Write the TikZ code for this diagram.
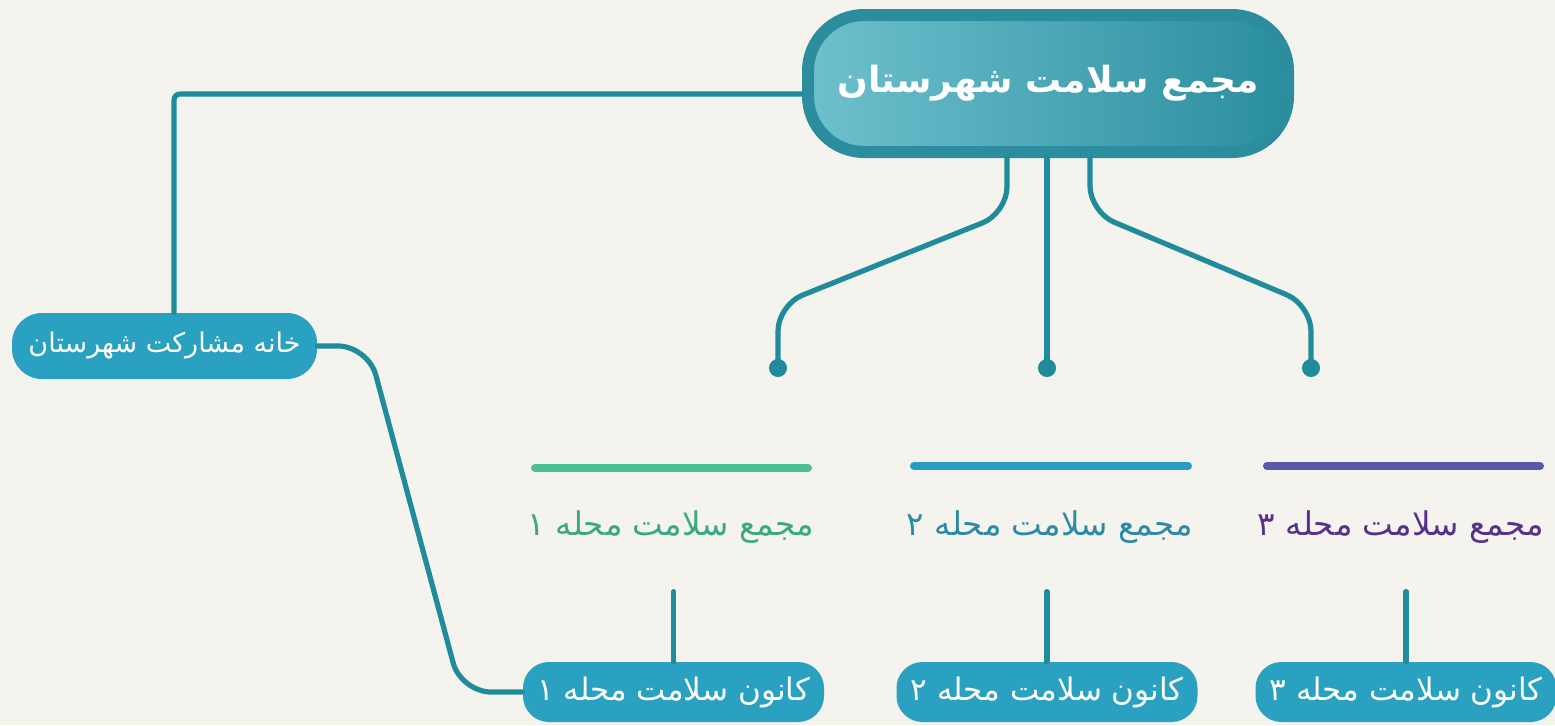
\documentclass[tikz,border=0pt]{standalone}
\usepackage{fontspec}
\newfontfamily\arabicfont[Script=Arabic]{DejaVu Sans}
\TeXXeTstate=1
\definecolor{bg}{HTML}{F4F3EE}
\definecolor{conncol}{HTML}{1F8B9B}
\definecolor{pillcol}{HTML}{2BA1C2}
\definecolor{ringcol}{HTML}{2B8D9D}
\definecolor{mainleft}{HTML}{6FC0CD}
\definecolor{mainright}{HTML}{2A8E9F}
\definecolor{greenbar}{HTML}{4DBF95}
\definecolor{greentext}{HTML}{3AA886}
\definecolor{bluebar}{HTML}{2A9CC3}
\definecolor{bluetext}{HTML}{2B8AA6}
\definecolor{purplebar}{HTML}{5A58A8}
\definecolor{purpletext}{HTML}{5A2E8C}
\tikzset{
  conn/.style={draw=conncol, line width=2.6pt, line cap=round},
  pill/.style={fill=pillcol, rounded corners=13pt, minimum width=150.5pt, minimum height=30pt, inner sep=0pt, text=white, font=\arabicfont\fontsize{15.5}{18}\selectfont},
  leftpill/.style={pill, minimum width=152.5pt, minimum height=33pt, rounded corners=15pt, font=\arabicfont\fontsize{13.5}{16}\selectfont},
  mainbox/.style={draw=ringcol, line width=6pt, left color=mainleft, right color=mainright, rounded corners=28pt, minimum width=240pt, minimum height=68.5pt, inner sep=0pt, text=white, font=\arabicfont\bfseries\fontsize{18}{22}\selectfont},
  dotnode/.style={circle, fill=conncol, minimum size=9pt, inner sep=0pt},
  bar/.style={line width=4pt, line cap=round},
  sublabel/.style={font=\arabicfont\fontsize{16.3}{19}\selectfont, inner sep=0pt}
}
\begin{document}
\begin{tikzpicture}[x=0.5pt,y=-0.5pt]
\fill[bg] (0,0) rectangle (1555,725);
\useasboundingbox (0,0) rectangle (1555,725);

% nodes
\node[mainbox] (main) at (1048,83.5) {\beginR مجمع سلامت شهرستان\endR};
\node[leftpill] (left) at (164.5,346) {\beginR خانه مشارکت شهرستان\endR};
\node[pill] (k1) at (673.5,692) {\beginR کانون سلامت محله ۱\endR};
\node[pill] (k2) at (1047,692) {\beginR کانون سلامت محله ۲\endR};
\node[pill] (k3) at (1406,692) {\beginR کانون سلامت محله ۳\endR};

\node[sublabel, text=greentext] (m1) at (671,527) {\beginR مجمع سلامت محله ۱\endR};
\node[sublabel, text=bluetext] (m2) at (1050,527) {\beginR مجمع سلامت محله ۲\endR};
\node[sublabel, text=purpletext] (m3) at (1401,527) {\beginR مجمع سلامت محله ۳\endR};

\node[dotnode] (d1) at (778,368) {};
\node[dotnode] (d2) at (1047,368) {};
\node[dotnode] (d3) at (1311,368) {};

% bars
\draw[bar, greenbar] (535,468) -- (808,468);
\draw[bar, bluebar] (914,466) -- (1188,466);
\draw[bar, purplebar] (1267,466) -- (1540,466);

% corner coordinates
\coordinate (tl) at (174,94);
\coordinate (b1) at (1007,213);
\coordinate (b2) at (778,305);
\coordinate (b3) at (1090,212);
\coordinate (b4) at (1311,305);
\coordinate (c1) at (368,346);
\coordinate (c2) at (461,692);

% connectors
\draw[conn, rounded corners=3pt] (main.west |- tl) -- (tl) -- (left.north -| tl);
\draw[conn, rounded corners=13pt] (main.south -| b1) -- (b1) -- (b2) -- (d1.center);
\draw[conn] (main.south -| d2) -- (d2.center);
\draw[conn, rounded corners=13pt] (main.south -| b3) -- (b3) -- (b4) -- (d3.center);
\draw[conn, rounded corners=15pt] (left.east) -- (c1) -- (c2) -- (k1.west);
\draw[conn] (k1.north) -- ++(0,-70);
\draw[conn] (k2.north) -- ++(0,-70);
\draw[conn] (k3.north) -- ++(0,-70);
\end{tikzpicture}
\end{document}
